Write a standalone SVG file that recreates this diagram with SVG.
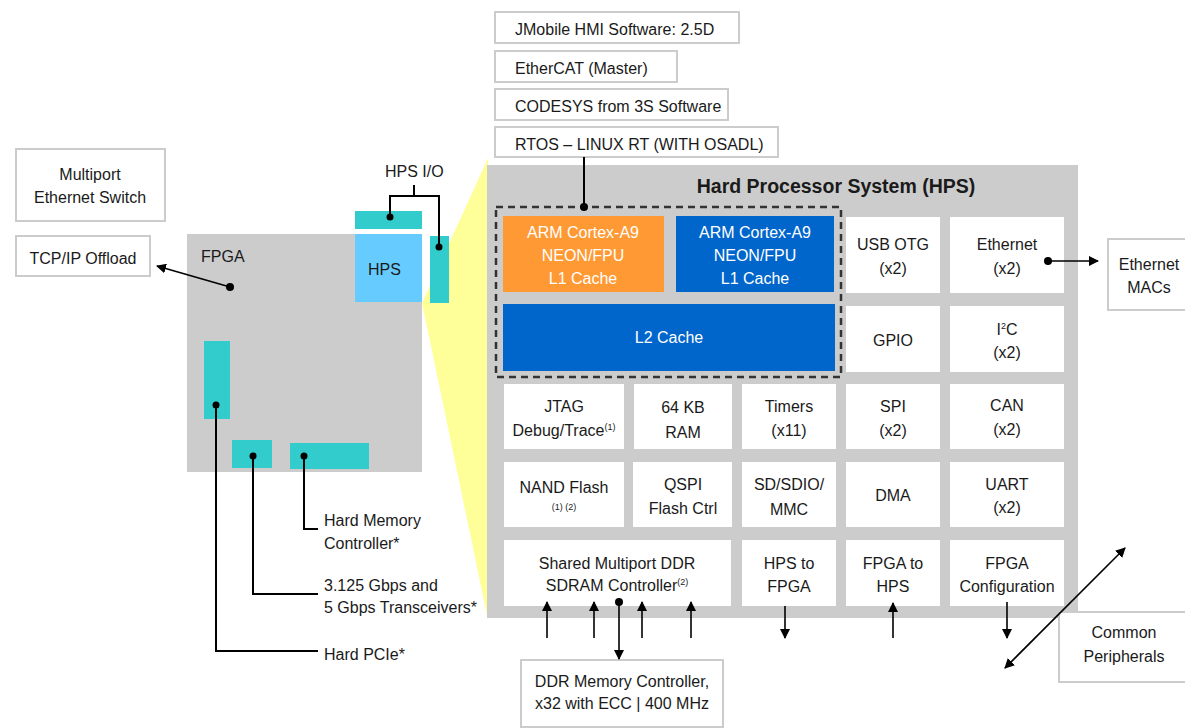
<svg xmlns="http://www.w3.org/2000/svg" width="1185" height="728" viewBox="0 0 1185 728">
<defs>
<marker id="ah" viewBox="0 0 10 10" refX="9" refY="5" markerWidth="10" markerHeight="10" markerUnits="userSpaceOnUse" orient="auto-start-reverse"><path d="M0,0 L10,5 L0,10 z" fill="#000"/></marker>
<style>
text{font-family:"Liberation Sans",Arial,sans-serif;font-size:16px;fill:#1a1a1a}
.c{text-anchor:middle}
.w{fill:#fff}
.b{font-weight:bold;font-size:19.5px}
.sup{font-size:9px}
.ob{fill:#fff;stroke:#cccccc;stroke-width:2}
.cell{fill:#fff}
.teal{fill:#33cccc}
.ln{stroke:#000;stroke-width:2;fill:none}
.arr{stroke:#000;stroke-width:1.6;fill:none;marker-end:url(#ah)}
.dot{fill:#000}
</style>
</defs>
<rect width="1185" height="728" fill="#fff"/>

<!-- zoom wedge -->
<polygon points="422,303 488,158 488,620" fill="#ffff99"/>

<!-- FPGA chip -->
<g id="fpga">
<rect x="187" y="234" width="235" height="238" fill="#cccccc"/>
<text x="201" y="262">FPGA</text>
</g>
<g id="fpga-hps">
<rect x="355" y="234" width="67" height="68" fill="#66ccff"/>
<text x="368" y="275">HPS</text>
</g>
<g id="hps-io">
<rect class="teal" x="355" y="211" width="67" height="18"/>
<rect class="teal" x="430" y="236" width="19" height="67"/>
<text x="385" y="177">HPS I/O</text>
</g>
<g id="pcie-block"><rect class="teal" x="204" y="341" width="26" height="78"/></g>
<g id="xcvr-block"><rect class="teal" x="232" y="440" width="40" height="28"/></g>
<g id="hmc-block"><rect class="teal" x="290" y="443" width="79" height="26"/></g>

<g id="multiport">
<rect class="ob" x="16" y="149" width="149" height="72"/>
<text class="c" x="90" y="180">Multiport</text>
<text class="c" x="90" y="203">Ethernet Switch</text>
</g>
<g id="tcpip">
<rect class="ob" x="16" y="236" width="134" height="40"/>
<text class="c" x="83" y="264">TCP/IP Offload</text>
</g>

<!-- labels -->
<g id="hmc-label"><text x="324" y="526">Hard Memory</text><text x="324" y="549">Controller*</text></g>
<g id="xcvr-label"><text x="324" y="591">3.125 Gbps and</text><text x="324" y="613">5 Gbps Transceivers*</text></g>
<g id="pcie-label"><text x="324" y="660">Hard PCIe*</text></g>

<!-- software stack -->
<g id="jmobile"><rect class="ob" x="495" y="12" width="244" height="31"/><text x="515" y="35">JMobile HMI Software: 2.5D</text></g>
<g id="ethercat"><rect class="ob" x="495" y="51" width="182" height="31"/><text x="515" y="74">EtherCAT (Master)</text></g>
<g id="codesys"><rect class="ob" x="495" y="89" width="233" height="31"/><text x="515" y="112">CODESYS from 3S Software</text></g>
<g id="rtos"><rect class="ob" x="495" y="127" width="283" height="30"/><text x="515" y="150">RTOS – LINUX RT (WITH OSADL)</text></g>

<!-- HPS -->
<g id="hps">
<rect x="487" y="165" width="591" height="453" fill="#cccccc"/>
<text class="c b" x="836" y="193">Hard Processor System (HPS)</text>
</g>
<g id="mpu">
<rect x="496" y="207" width="345" height="170" fill="none" stroke="#333" stroke-width="2.5" stroke-dasharray="7 5"/>
</g>
<g id="cpu0">
<rect x="503" y="216" width="161" height="76" fill="#ff9933"/>
<text class="c w" x="583" y="238">ARM Cortex-A9</text>
<text class="c w" x="583" y="261">NEON/FPU</text>
<text class="c w" x="583" y="284">L1 Cache</text>
</g>
<g id="cpu1">
<rect x="676" y="216" width="158" height="76" fill="#0066cc"/>
<text class="c w" x="755" y="238">ARM Cortex-A9</text>
<text class="c w" x="755" y="261">NEON/FPU</text>
<text class="c w" x="755" y="284">L1 Cache</text>
</g>
<g id="l2">
<rect x="503" y="304" width="332" height="67" fill="#0066cc"/>
<text class="c w" x="669" y="343">L2 Cache</text>
</g>

<g id="usb"><rect class="cell" x="846" y="217" width="94" height="76"/><text class="c" x="893" y="250">USB OTG</text><text class="c" x="893" y="274">(x2)</text></g>
<g id="ethernet"><rect class="cell" x="950" y="217" width="114" height="76"/><text class="c" x="1007" y="250">Ethernet</text><text class="c" x="1007" y="274">(x2)</text></g>
<g id="gpio"><rect class="cell" x="846" y="306" width="94" height="66"/><text class="c" x="893" y="346">GPIO</text></g>
<g id="i2c"><rect class="cell" x="950" y="306" width="114" height="66"/><text class="c" x="1007" y="335">I<tspan class="sup" dy="-6">2</tspan><tspan dy="6">C</tspan></text><text class="c" x="1007" y="358">(x2)</text></g>

<g id="jtag"><rect class="cell" x="504" y="384" width="120" height="65"/><text class="c" x="564" y="412">JTAG</text><text class="c" x="564" y="436">Debug/Trace<tspan class="sup" dy="-6">(1)</tspan></text></g>
<g id="ram"><rect class="cell" x="634" y="384" width="98" height="65"/><text class="c" x="683" y="413">64 KB</text><text class="c" x="683" y="438">RAM</text></g>
<g id="timers"><rect class="cell" x="742" y="384" width="94" height="65"/><text class="c" x="789" y="412">Timers</text><text class="c" x="789" y="436">(x11)</text></g>
<g id="spi"><rect class="cell" x="846" y="384" width="94" height="65"/><text class="c" x="893" y="412">SPI</text><text class="c" x="893" y="436">(x2)</text></g>
<g id="can"><rect class="cell" x="950" y="384" width="114" height="65"/><text class="c" x="1007" y="411">CAN</text><text class="c" x="1007" y="435">(x2)</text></g>

<g id="nand"><rect class="cell" x="504" y="462" width="120" height="65"/><text class="c" x="564" y="493">NAND Flash</text><text class="c sup" x="564" y="510">(1) (2)</text></g>
<g id="qspi"><rect class="cell" x="633" y="462" width="99" height="65"/><text class="c" x="683" y="490">QSPI</text><text class="c" x="683" y="514">Flash Ctrl</text></g>
<g id="sd"><rect class="cell" x="742" y="462" width="94" height="65"/><text class="c" x="789" y="490">SD/SDIO/</text><text class="c" x="789" y="515">MMC</text></g>
<g id="dma"><rect class="cell" x="846" y="462" width="94" height="65"/><text class="c" x="893" y="501">DMA</text></g>
<g id="uart"><rect class="cell" x="950" y="462" width="114" height="65"/><text class="c" x="1007" y="490">UART</text><text class="c" x="1007" y="513">(x2)</text></g>

<g id="sdram"><rect class="cell" x="504" y="540" width="227" height="66"/><text class="c" x="617" y="569">Shared Multiport DDR</text><text class="c" x="617" y="591">SDRAM Controller<tspan class="sup" dy="-6">(2)</tspan></text></g>
<g id="h2f"><rect class="cell" x="742" y="540" width="94" height="66"/><text class="c" x="789" y="569">HPS to</text><text class="c" x="789" y="592">FPGA</text></g>
<g id="f2h"><rect class="cell" x="846" y="540" width="94" height="66"/><text class="c" x="893" y="569">FPGA to</text><text class="c" x="893" y="592">HPS</text></g>
<g id="fpgacfg"><rect class="cell" x="950" y="540" width="114" height="66"/><text class="c" x="1007" y="569">FPGA</text><text class="c" x="1007" y="592">Configuration</text></g>

<g id="ethmacs"><rect class="ob" x="1108" y="239" width="90" height="71"/><text class="c" x="1149" y="270">Ethernet</text><text class="c" x="1149" y="293">MACs</text></g>
<g id="common"><rect class="ob" x="1059" y="612" width="140" height="70"/><text class="c" x="1124" y="638">Common</text><text class="c" x="1124" y="662">Peripherals</text></g>
<g id="ddrmem"><rect class="ob" x="521" y="660" width="202" height="67"/><text class="c" x="622" y="687">DDR Memory Controller,</text><text class="c" x="622" y="709">x32 with ECC | 400 MHz</text></g>

<!-- connectors -->
<g id="connectors">
<polyline class="ln" points="414,185 414,196"/>
<polyline class="ln" points="390,217 390,196 439,196 439,247"/>
<circle class="dot" cx="390" cy="217" r="3.5"/>
<circle class="dot" cx="439" cy="247" r="3.5"/>
<line class="arr" x1="230" y1="287" x2="157" y2="266"/>
<circle class="dot" cx="230" cy="287" r="4"/>
<polyline class="ln" points="304,456 304,529 318,529"/>
<circle class="dot" cx="304" cy="456" r="3.5"/>
<polyline class="ln" points="253,456 253,594 318,594"/>
<circle class="dot" cx="253" cy="456" r="3.5"/>
<polyline class="ln" points="216,405 216,651 318,651"/>
<circle class="dot" cx="216" cy="405" r="3.5"/>
<line class="ln" x1="584" y1="157" x2="584" y2="207"/>
<circle class="dot" cx="584" cy="207" r="4"/>
<line class="arr" x1="1048" y1="261" x2="1098" y2="261"/>
<circle class="dot" cx="1048" cy="261" r="4"/>
<line class="arr" x1="547" y1="638" x2="547" y2="602"/>
<line class="arr" x1="594" y1="638" x2="594" y2="602"/>
<line class="arr" x1="642" y1="638" x2="642" y2="602"/>
<line class="arr" x1="691" y1="638" x2="691" y2="602"/>
<line class="arr" x1="619" y1="602" x2="619" y2="659" stroke-width="2"/>
<circle class="dot" cx="619" cy="602" r="4"/>
<line class="arr" x1="785" y1="606" x2="785" y2="638"/>
<line class="arr" x1="893" y1="638" x2="893" y2="603"/>
<line class="arr" x1="1007" y1="602" x2="1007" y2="638"/>
<line class="arr" x1="1005" y1="668" x2="1125" y2="548" style="marker-start:url(#ah)"/>
</g>
</svg>
